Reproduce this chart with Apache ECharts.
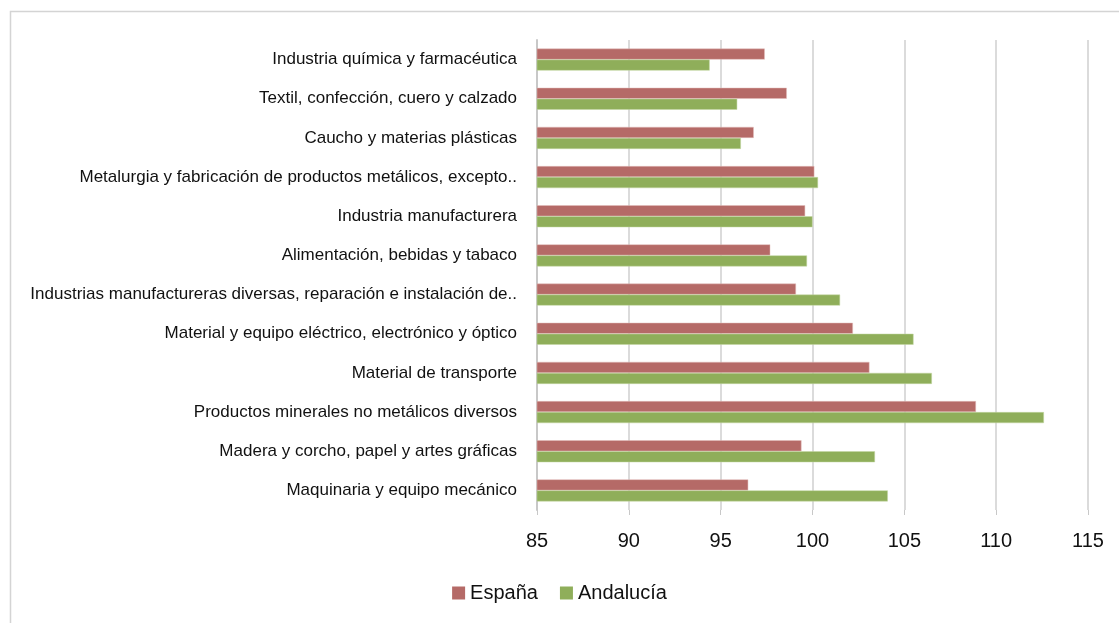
<!DOCTYPE html>
<html>
<head>
<meta charset="utf-8">
<script src="https://cdn.jsdelivr.net/npm/echarts@6/dist/echarts.min.js"></script>
<style>
  html, body { margin: 0; padding: 0; background: #fff; }
  #chart { width: 1119px; height: 623px; }
</style>
</head>
<body>
<div id="chart"></div>
<script>
// sectores, de arriba a abajo
var sectores = [
    'Industria química y farmacéutica',
    'Textil, confección, cuero y calzado',
    'Caucho y materias plásticas',
    'Metalurgia y fabricación de productos metálicos, excepto..',
    'Industria manufacturera',
    'Alimentación, bebidas y tabaco',
    'Industrias manufactureras diversas, reparación e instalación de..',
    'Material y equipo eléctrico, electrónico y óptico',
    'Material de transporte',
    'Productos minerales no metálicos diversos',
    'Madera y corcho, papel y artes gráficas',
    'Maquinaria y equipo mecánico'
];
var espana    = [97.4, 98.6, 96.8, 100.1, 99.6, 97.7, 99.1, 102.2, 103.1, 108.9, 99.4, 96.5];
var andalucia = [94.4, 95.9, 96.1, 100.3, 100.0, 99.7, 101.5, 105.5, 106.5, 112.6, 103.4, 104.1];
var ejeX = [85, 90, 95, 100, 105, 110, 115];

var fuente = '"Liberation Sans Narrow", "Liberation Sans", Arial, sans-serif';

function draw_chart(){
    var chart = echarts.init(document.getElementById('chart'));
    var option = {
        animation: false,
        textStyle: { fontFamily: fuente },
        color: ['#b56a67', '#8fae5a'],
        graphic: [{
            type: 'rect',
            shape: { x: 10.5, y: 11.5, width: 1130, height: 630 },
            style: { fill: 'none', stroke: '#d4d4d4', lineWidth: 1.5 }
        }],
        legend: {
            bottom: 15,
            left: 'center',
            itemWidth: 13,
            itemHeight: 13,
            itemGap: 22,
            icon: 'rect',
            itemStyle: { borderWidth: 0 },
            textStyle: { fontSize: 20, color: '#111', fontFamily: fuente },
            data: ['España', 'Andalucía']
        },
        grid: {
            left: 537,
            right: 31,
            top: 40,
            bottom: 113
        },
        xAxis: {
            type: 'value',
            min: ejeX[0],
            max: ejeX[ejeX.length - 1],
            interval: 5,
            axisLine: { show: false },
            axisTick: { show: true, length: 5, lineStyle: { color: '#c8c8c8' } },
            splitLine: { show: true, lineStyle: { color: '#cfcfcf', width: 1.5 } },
            axisLabel: { fontSize: 20, color: '#111', margin: 21, fontFamily: fuente }
        },
        yAxis: {
            type: 'category',
            inverse: true,
            data: sectores,
            axisLine: { show: true, lineStyle: { color: '#c8c8c8', width: 2 } },
            axisTick: { show: false },
            axisLabel: { fontSize: 17, color: '#111', margin: 20, fontFamily: fuente }
        },
        series: [
            {
                name: 'España',
                type: 'bar',
                data: espana,
                barWidth: 11,
                barGap: '0%',
                itemStyle: { borderColor: '#e3bcbb', borderWidth: 0.5 }
            },
            {
                name: 'Andalucía',
                type: 'bar',
                data: andalucia,
                barWidth: 11,
                barGap: '0%',
                itemStyle: { borderColor: '#c3d6a3', borderWidth: 0.5 }
            }
        ]
    };
    chart.setOption(option);
}
draw_chart();
</script>
</body>
</html>
